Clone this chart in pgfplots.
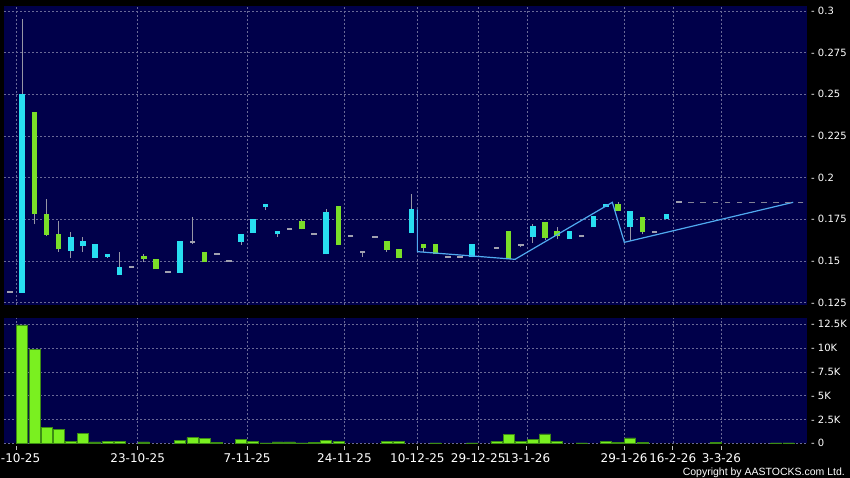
\documentclass[border=0pt]{standalone}
\usepackage{pgfplots}
\pgfplotsset{compat=1.18}
\usepackage{fontspec}
\setmainfont{DejaVu Sans}
\newfontfamily\lib{Liberation Sans}
\definecolor{navy}{RGB}{0,0,74}
\definecolor{cyanc}{RGB}{40,222,240}
\definecolor{greenc}{RGB}{122,222,40}
\definecolor{volg}{RGB}{122,240,32}
\definecolor{volo}{RGB}{60,140,20}
\definecolor{gridc}{RGB}{105,105,150}
\definecolor{wickc}{RGB}{150,150,165}
\definecolor{dashc}{RGB}{160,160,175}
\definecolor{dashd}{RGB}{130,130,150}
\definecolor{trend}{RGB}{80,170,240}
\begin{document}
\begin{tikzpicture}[x=1pt,y=1pt]
\fill[black] (0,0) rectangle (850,478);
\pgfplotsset{
  base/.style={
    scale only axis,
    xmin=-0.493, xmax=65.54,
    axis background/.style={fill=navy},
    axis line style={draw=none},
    grid=major,
    major grid style={gridc, dash pattern=on 2pt off 2pt, line width=0.5pt},
    xtick={0.5,10.5,19.5,27.5,33.5,38.5,42.5,50.5,54.5,58.5},
    tick align=outside, major tick length=4pt,
    ytick style={draw=none},
    yticklabel pos=right,
    yticklabel style={font=\fontsize{10}{10}\selectfont, text=white, anchor=west, inner sep=0pt},
  }
}
% ---------------- price panel ----------------
\begin{axis}[base, at={(4pt,472pt)}, anchor=north west, width=803pt, height=299pt,
  ymin=0.1236, ymax=0.303,
  ytick={0.125,0.15,0.175,0.2,0.225,0.25,0.275,0.3},
  yticklabels={- 0.125,- 0.15,- 0.175,- 0.2,- 0.225,- 0.25,- 0.275,- 0.3},
  xticklabels={}, xtick style={draw=none},
]
% wicks
\addplot[wickc, line width=1pt, unbounded coords=jump] coordinates {
(1,0.131) (1,0.2952) (1,nan)
(2,0.172) (2,0.2392) (2,nan)
(3,0.1648) (3,0.1872) (3,nan)
(4,0.1556) (4,0.174) (4,nan)
(5,0.152) (5,0.1674) (5,nan)
(6,0.1556) (6,0.1644) (6,nan)
(8,0.152) (8,0.154) (8,nan)
(9,0.1418) (9,0.1554) (9,nan)
(11,0.1496) (11,0.154) (11,nan)
(15,0.160) (15,0.1764) (15,nan)
(19,0.1598) (19,0.166) (19,nan)
(21,0.1806) (21,0.184) (21,nan)
(22,0.1646) (22,0.168) (22,nan)
(24,0.169) (24,0.175) (24,nan)
(26,0.154) (26,0.181) (26,nan)
(29,0.1526) (29,0.1556) (29,nan)
(31,0.1556) (31,0.1618) (31,nan)
(33,0.167) (33,0.190) (33,nan)
(34,0.1556) (34,0.160) (34,nan)
(42,0.1582) (42,0.1598) (42,nan)
(43,0.161) (43,0.1722) (43,nan)
(44,0.1626) (44,0.1732) (44,nan)
(45,0.163) (45,0.1704) (45,nan)
(50,0.1798) (50,0.1852) (50,nan)
(51,0.1622) (51,0.1798) (51,nan)
(52,0.166) (52,0.1762) (52,nan)
};
% cyan bodies
\addplot[cyanc, line width=5.5pt, unbounded coords=jump] coordinates {
(1,0.131) (1,0.25) (1,nan)
(5,0.156) (5,0.1642) (5,nan)
(6,0.1588) (6,0.1618) (6,nan)
(7,0.152) (7,0.160) (7,nan)
(8,0.1526) (8,0.154) (8,nan)
(9,0.1418) (9,0.1464) (9,nan)
(14,0.143) (14,0.162) (14,nan)
(19,0.1616) (19,0.166) (19,nan)
(20,0.167) (20,0.175) (20,nan)
(21,0.1822) (21,0.184) (21,nan)
(22,0.166) (22,0.168) (22,nan)
(26,0.154) (26,0.1792) (26,nan)
(33,0.167) (33,0.181) (33,nan)
(38,0.1522) (38,0.160) (38,nan)
(43,0.1646) (43,0.1708) (43,nan)
(46,0.163) (46,0.1678) (46,nan)
(48,0.1702) (48,0.1768) (48,nan)
(49,0.1822) (49,0.184) (49,nan)
(51,0.1702) (51,0.1798) (51,nan)
(54,0.175) (54,0.178) (54,nan)
};
% green bodies
\addplot[greenc, line width=5.5pt, unbounded coords=jump] coordinates {
(2,0.178) (2,0.2392) (2,nan)
(3,0.1658) (3,0.178) (3,nan)
(4,0.157) (4,0.166) (4,nan)
(11,0.151) (11,0.153) (11,nan)
(12,0.145) (12,0.1512) (12,nan)
(16,0.1492) (16,0.1552) (16,nan)
(24,0.169) (24,0.174) (24,nan)
(27,0.1598) (27,0.1828) (27,nan)
(31,0.1568) (31,0.1618) (31,nan)
(32,0.152) (32,0.157) (32,nan)
(34,0.158) (34,0.160) (34,nan)
(35,0.154) (35,0.160) (35,nan)
(41,0.151) (41,0.1678) (41,nan)
(44,0.164) (44,0.1732) (44,nan)
(45,0.1648) (45,0.1678) (45,nan)
(50,0.1798) (50,0.184) (50,nan)
(52,0.1672) (52,0.1762) (52,nan)
};
% flat candles
\addplot[only marks, mark=-, mark size=2.8pt, mark options={dashc, line width=2pt}] coordinates {
(0,0.1312) (10,0.1466) (13,0.1436) (15,0.1616) (17,0.1542) (18,0.1498)
(23,0.169) (25,0.166) (28,0.1648) (29,0.1556) (30,0.1642) (36,0.1522)
(37,0.1522) (40,0.1576) (42,0.1598) (47,0.1648) (53,0.1672) (55,0.1856)
};
\addplot[only marks, mark=-, mark size=2.8pt, mark options={dashd, line width=1.2pt}] coordinates {
(56,0.185) (57,0.185) (58,0.185) (59,0.185) (60,0.185)
(61,0.185) (62,0.185) (63,0.185) (64,0.185) (65,0.185)
};
% trend line
\addplot[trend, line width=1.2pt] coordinates {
(33.5,0.181) (33.5,0.1556) (41.53,0.151) (49.53,0.1852) (50.52,0.1612) (64.4,0.1852)
};
\end{axis}
% ---------------- volume panel ----------------
\begin{axis}[base, at={(4pt,34.7pt)}, anchor=south west, width=803pt, height=125pt,
  ymin=0, ymax=13.13,
  ytick={0,2.5,5,7.5,10,12.5},
  yticklabels={- 0,- 2.5K,- 5K,- 7.5K,- 10K,- 12.5K},
  xtick pos=bottom,
  xticklabels={\hspace*{9pt}-10-25,23-10-25,7-11-25,24-11-25,10-12-25,29-12-25,13-1-26,29-1-26,16-2-26,3-3-26},
  xticklabel style={font=\fontsize{12}{12}\selectfont, text=white, anchor=north, inner sep=0pt, yshift=-6pt},
  xtick style={draw=white!75!black, line width=0.8pt, yshift=-2.5pt},
]
\addplot[ybar, bar width=11pt, fill=volg, draw=volo, line width=0.5pt] coordinates {
(1,12.43) (2,9.83) (3,1.71) (4,1.47) (5,0.21) (6,1.01) (7,0.14) (8,0.24) (9,0.24)
(11,0.14) (14,0.27) (15,0.59) (16,0.52) (17,0.10) (19,0.45) (20,0.17) (21,0.05)
(22,0.14) (23,0.14) (24,0.05) (25,0.08) (26,0.31) (27,0.21) (31,0.24) (32,0.20)
(35,0.05) (38,0.05) (40,0.21) (41,0.95) (42,0.17) (43,0.45) (44,0.98) (45,0.24)
(47,0.05) (49,0.21) (50,0.08) (51,0.56) (52,0.08) (58,0.08) (63,0.05) (64,0.05)
};
\end{axis}
\node[anchor=base east, text=white, font=\lib\fontsize{10.5}{12}\selectfont, inner sep=0pt] at (845,2) {Copyright by AASTOCKS.com Ltd.};
\pgfresetboundingbox
\path[use as bounding box] (0,0) rectangle (850,478);
\end{tikzpicture}
\end{document}
